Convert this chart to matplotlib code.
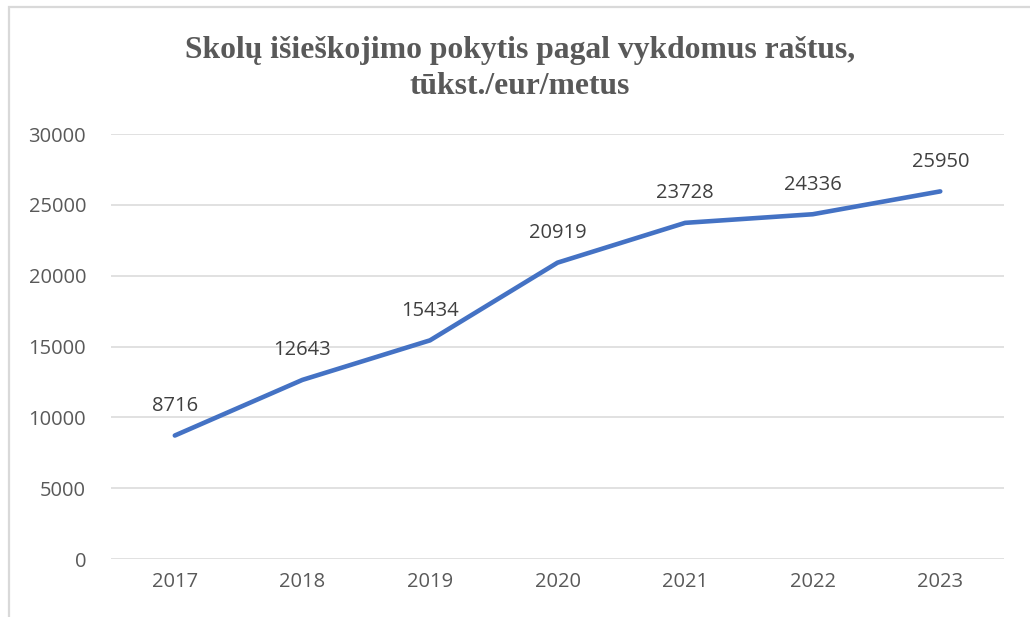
import matplotlib
matplotlib.use('Agg')
import matplotlib.pyplot as plt
from matplotlib.patches import Rectangle

years = ['2017', '2018', '2019', '2020', '2021', '2022', '2023']
values = [8716, 12643, 15434, 20919, 23728, 24336, 25950]
yticks = [0, 5000, 10000, 15000, 20000, 25000, 30000]
title = 'Skolų išieškojimo pokytis pagal vykdomus raštus,\ntūkst./eur/metus'

fig = plt.figure(figsize=(10.3, 6.17), dpi=100)
ax = fig.add_axes([0.1078, 0.094, 0.867, 0.6888])

# outer chart frame (light grey, only top and left visible)
fig.patches.append(Rectangle((9 / 1030, -0.1), 1.2, 1.1 - 6.5 / 617,
                             transform=fig.transFigure, fill=False,
                             edgecolor='#d9d9d9', linewidth=1.6))

x = list(range(len(years)))
ax.plot(x, values, color='#4472C4', linewidth=3.3, solid_capstyle='round',
        zorder=3)

for xi, v in zip(x, values):
    ax.annotate(str(v), (xi, v), xytext=(0, 14), textcoords='offset points',
                ha='center', va='bottom', fontsize=14.5, color='#404040',
                family='Open Sans')

ax.set_xlim(-0.5, len(years) - 0.5)
ax.set_ylim(0, 30000)
ax.set_yticks(yticks)
ax.set_xticks(x)
ax.set_xticklabels(years)
ax.grid(axis='y', color='#d9d9d9', linewidth=1.1)
ax.set_axisbelow(True)
for s in ax.spines.values():
    s.set_visible(False)
ax.tick_params(length=0, labelsize=14.5, labelcolor='#595959', pad=9)
for lbl in ax.get_xticklabels() + ax.get_yticklabels():
    lbl.set_family('Open Sans')
ax.tick_params(axis='y', pad=18)

fig.text(0.505, 0.942, title, ha='center', va='top', fontsize=22.8,
         fontweight='bold', color='#595959', family='Liberation Serif',
         linespacing=1.33)

fig.savefig('out.png', dpi=100)
